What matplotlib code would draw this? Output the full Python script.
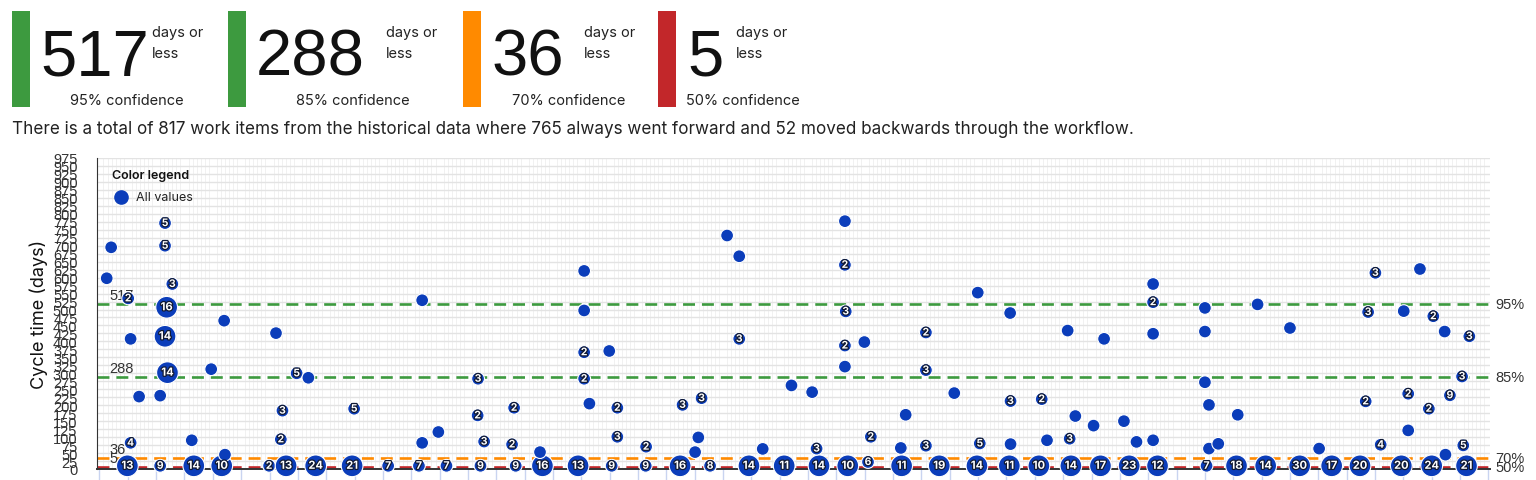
import numpy as np
import matplotlib
matplotlib.use('Agg')
import matplotlib.pyplot as plt
import matplotlib.patheffects as pe
from matplotlib.patches import Rectangle
from matplotlib.transforms import blended_transform_factory

# Percentiles shown in the cards and as dashed lines
pct_labels = ['95%', '85%', '70%', '50%']
pct_days = [517, 288, 36, 5]
pct_colors = ['#3d9a3f', '#3d9a3f', '#ff8a00', '#c2272a']

total_items = 817
forward_items = 765
backward_items = 52

# Bubbles: day in the period, cycle time (days), number of items in the bubble
point_day = [
    7.5, 15.6, 23.9, 30.8, 42.5, 46.7, 54.0, 63.0, 71.9, 79.5, 86.3, 94.7,
    103.4, 110.0, 118.8, 127.1, 135.5, 144.0, 151.4, 161.0, 169.7, 178.3, 185.4, 190.4,
    198.7, 208.0, 217.3, 225.3, 232.6, 240.5, 247.8, 254.9, 261.9, 274.0, 281.4, 288.6,
    297.0, 304.9, 311.9, 322.1, 329.6, 338.2,
    16.8, 3.5, 16.8, 2.4, 18.6, 7.7, 17.2, 31.4, 8.3, 16.8, 44.2, 17.4, 28.2, 49.3, 52.2,
    10.4, 15.6, 45.8, 8.3, 23.4, 45.4, 31.6,
    80.3, 94.1, 63.5, 94.0, 84.3, 80.3, 95.6,
    120.3, 120.3, 120.3, 126.5, 120.3, 121.6, 103.0, 128.5, 144.6, 102.5, 128.5, 135.6,
    109.4, 148.5, 147.7, 149.3,
    184.7, 155.6, 158.6, 184.7, 184.9, 158.6, 184.7, 189.5, 184.7, 171.5, 176.6, 191.1,
    164.4, 177.7,
    217.5, 225.5, 204.7, 239.7, 204.7, 211.7, 225.6, 233.3, 199.7, 241.6, 246.1, 198.5,
    204.7, 218.0, 225.6, 234.6, 240.2,
    260.8, 260.8, 273.6, 286.6, 248.7, 260.8, 273.6, 294.6, 273.6, 274.6, 281.7, 253.6,
    256.7, 260.8, 274.6, 276.9,
    315.7, 326.7, 313.9, 322.7, 330.0, 332.8, 338.9, 337.1, 313.3, 323.8, 334.1, 328.9,
    323.8, 317.0, 337.4, 301.8, 333.0,
]
point_ct = [
    10, 10, 10, 10, 10, 10, 10, 10, 10, 10, 10, 10,
    10, 10, 10, 10, 10, 10, 10, 10, 10, 10, 10, 22,
    10, 10, 10, 10, 10, 10, 10, 10, 10, 10, 10, 10,
    10, 10, 10, 10, 10, 10,
    771, 695, 700, 598, 580, 535, 507, 465, 408, 416, 426, 302, 313, 300, 286,
    227, 230, 183, 82, 90, 93, 45,
    529, 283, 189, 168, 116, 82, 86,
    621, 497, 366, 370, 283, 205, 192, 192, 201, 77, 101, 70,
    53, 99, 53, 222,
    777, 732, 667, 640, 494, 408, 387, 398, 321, 262, 241, 101,
    63, 64,
    553, 489, 428, 434, 310, 238, 213, 219, 170, 166, 136, 66,
    73, 80, 78, 90, 95,
    580, 523, 505, 516, 408, 424, 431, 442, 272, 201, 170, 150,
    85, 90, 64, 79,
    615, 627, 492, 495, 479, 431, 416, 290, 212, 236, 231, 189,
    121, 76, 74, 64, 45,
]
point_n = [
    13, 9, 14, 10, 2, 13, 24, 21, 7, 7, 7, 9,
    9, 16, 13, 9, 9, 16, 8, 14, 11, 14, 10, 6,
    11, 19, 14, 11, 10, 14, 17, 23, 12, 7, 18, 14,
    30, 17, 20, 20, 24, 21,
    5, 1, 5, 1, 3, 2, 16, 1, 1, 14, 1, 14, 1, 5, 1,
    1, 1, 3, 4, 1, 2, 1,
    1, 3, 5, 2, 1, 1, 3,
    1, 1, 2, 1, 2, 1, 2, 2, 3, 2, 3, 2,
    1, 1, 1, 3,
    1, 1, 1, 2, 3, 3, 2, 1, 1, 1, 1, 2,
    1, 3,
    1, 1, 2, 1, 3, 1, 3, 2, 1, 1, 1, 1,
    3, 5, 1, 1, 3,
    1, 2, 1, 1, 1, 1, 1, 1, 1, 1, 1, 1,
    1, 1, 1, 1,
    3, 1, 3, 1, 2, 1, 3, 3, 2, 2, 9, 2,
    1, 4, 5, 1, 1,
]

W, H = 1536, 481
BLUE = '#0b3dba'
plt.rcParams['lines.scale_dashes'] = False
plt.rcParams['font.family'] = ['Inter', 'DejaVu Sans']


def fx(x):
    return x / W


def fy(y):
    return 1 - y / H


fig = plt.figure(figsize=(W / 100, H / 100), dpi=100)
fig.patch.set_facecolor('white')

# Cards on top (bar, big number, "days or less", confidence)
bar_x = [12, 228, 463, 658]
num_x = [40, 256, 492, 687]
days_x = [152, 386, 584, 736]
conf_x = [70, 296, 512, 686]
for i in range(4):
    fig.add_artist(Rectangle((fx(bar_x[i]), fy(108)), fx(18), 96 / H,
                             transform=fig.transFigure, color=pct_colors[i], lw=0))
    fig.text(fx(num_x[i]), fy(75), str(pct_days[i]), fontsize=47,
             family=['Liberation Sans', 'DejaVu Sans'],
             color='#111111', va='baseline', ha='left')
    fig.text(fx(days_x[i]), fy(33), 'days or', fontsize=10.5,
             color='#222222', va='center')
    fig.text(fx(days_x[i]), fy(54), 'less', fontsize=10.5,
             color='#222222', va='center')
    fig.text(fx(conf_x[i]), fy(101), pct_labels[i] + ' confidence', fontsize=10.5,
             color='#222222', va='center')

fig.text(fx(12), fy(130),
         f'There is a total of {total_items} work items from the historical data where '
         f'{forward_items} always went forward and {backward_items} moved backwards '
         'through the workflow.', fontsize=12.3, color='#222222', va='center')

# Scatter chart
ax = fig.add_axes([fx(97), 11 / H, 1393 / W, 311 / H])
ax.set_xlim(0, 344)
ax.set_ylim(0, 975)

ax.set_yticks(np.arange(0, 976, 25))
ax.tick_params(axis='y', length=0, pad=14, labelsize=10.5, labelcolor='#333333')
for t in ax.get_yticklabels():
    t.set_family(['Liberation Sans', 'DejaVu Sans'])
ax.set_xticks(np.arange(0.6, 344, 7))
ax.set_xticks(np.arange(0.6, 344, 1), minor=True)
ax.tick_params(axis='x', which='major', length=11, width=1, color='#c9d4f0',
               labelbottom=False)
ax.tick_params(axis='x', which='minor', length=0)
ax.grid(axis='y', color='#e3e3e3', lw=1)
ax.grid(axis='x', which='minor', color='#efefef', lw=0.6)
ax.set_axisbelow(True)

for s in ['top', 'right']:
    ax.spines[s].set_visible(False)
ax.spines['left'].set_color('#333333')
ax.spines['bottom'].set_color('#333333')
ax.spines['bottom'].set_linewidth(1.4)

ax.set_ylabel('Cycle time (days)', fontsize=13, color='#111111')
ax.yaxis.set_label_coords(-0.035, 0.5)

# Percentile lines
trans = blended_transform_factory(ax.transAxes, ax.transData)
for label, days, color in zip(pct_labels, pct_days, pct_colors):
    ax.axhline(days, color=color, lw=1.9, ls=(0, (8.6, 5.0)), zorder=2)
    ax.text(0.009, days + 6, str(days), transform=trans, fontsize=10.5,
            family=['Liberation Sans', 'DejaVu Sans'],
            color='#333333', va='bottom', ha='left', zorder=2)
    ax.text(1.004, days, label, transform=trans, fontsize=10.5, color='#333333',
            family=['Liberation Sans', 'DejaVu Sans'],
            va='center', ha='left', clip_on=False)

# Bubbles
n = np.array(point_n)
sizes = np.where(n >= 10, 245, 85)
ax.scatter(point_day, point_ct, s=sizes, color=BLUE, edgecolors='white',
           linewidths=0.8, zorder=3, clip_on=False)
for d, c, k in zip(point_day, point_ct, point_n):
    if k > 1:
        ax.text(d, c, str(k), fontsize=8 if k >= 10 else 7.5, color='white',
                weight='bold', ha='center', va='center', zorder=4,
                path_effects=[pe.withStroke(linewidth=1.8, foreground='#111a33')])

# Legend
fig.text(fx(112), fy(176), 'Color legend', fontsize=9, color='#111111',
         weight='semibold', va='center')
fig.add_artist(plt.Line2D([fx(121)], [fy(198)], marker='o', markersize=9.5,
                          color=BLUE, transform=fig.transFigure))
fig.text(fx(136), fy(198), 'All values', fontsize=9, color='#222222', va='center')

fig.savefig('out.png', dpi=100)
